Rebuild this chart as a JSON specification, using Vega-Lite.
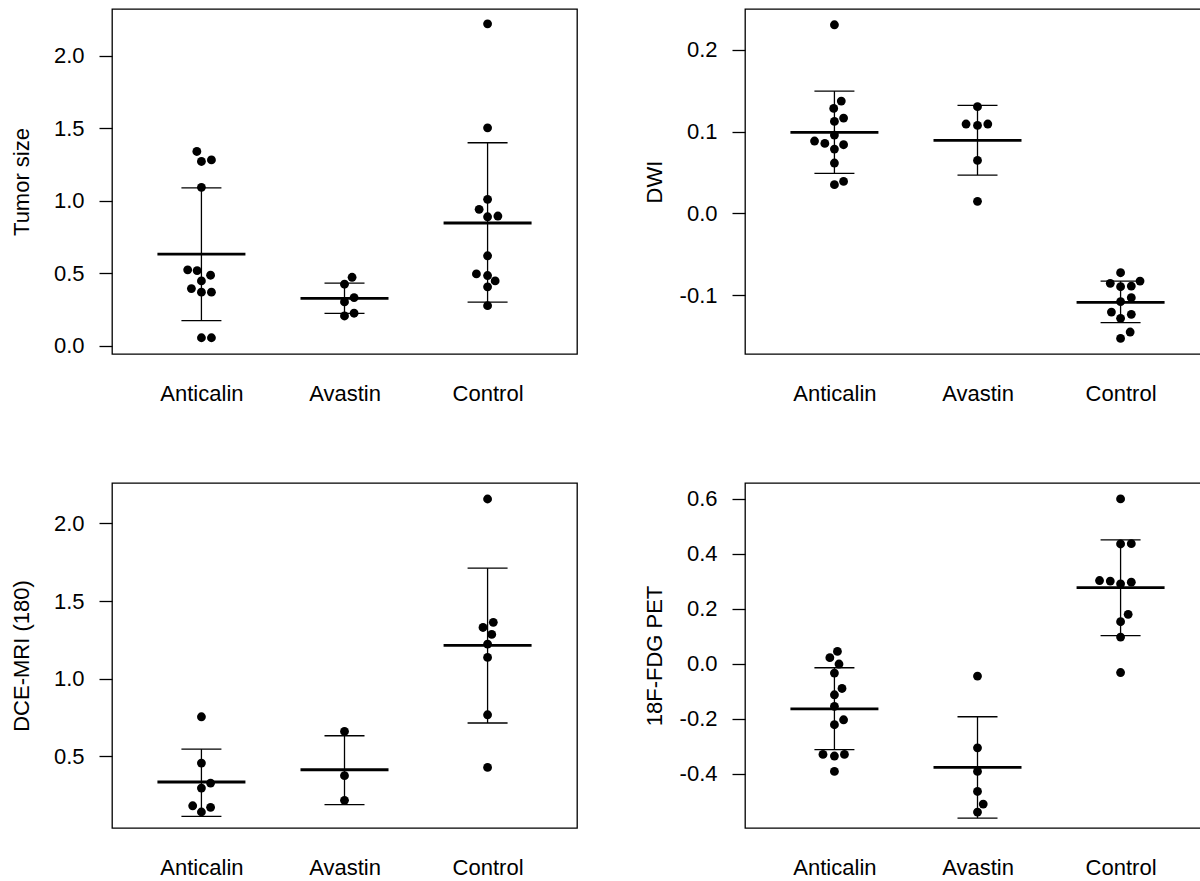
{
  "$schema": "https://vega.github.io/schema/vega-lite/v6.json",
  "background": "white",
  "padding": {"left": 9, "top": 8, "right": 0, "bottom": 5},
  "columns": 2,
  "spacing": {"row": 129, "column": 168},
  "bounds": "flush",
  "config": {
    "font": "Liberation Sans",
    "view": {"stroke": "black", "strokeWidth": 1.3},
    "tick": {"opacity": 1},
    "axis": {"labelFont": "Liberation Sans", "labelFontSize": 22, "labelColor": "#000", "titleFont": "Liberation Sans", "titleFontSize": 22, "titleFontWeight": "normal", "titleColor": "#000", "grid": false, "domain": false, "tickColor": "#000", "tickWidth": 1.3},
    "axisY": {"tickSize": 13, "labelPadding": 15, "titleX": -91, "titleY": 172.5, "titleBaseline": "middle", "titleAngle": -90, "titleAlign": "center"},
    "axisX": {"ticks": false, "tickSize": 0, "labelPadding": 29, "labelAngle": 0}
  },
  "datasets": {
    "pts": [
      {"p":"Tumor size","g":"Anticalin","v":1.339,"dx":-0.032},
      {"p":"Tumor size","g":"Anticalin","v":1.281,"dx":0.07},
      {"p":"Tumor size","g":"Anticalin","v":1.270,"dx":0},
      {"p":"Tumor size","g":"Anticalin","v":1.092,"dx":0},
      {"p":"Tumor size","g":"Anticalin","v":0.523,"dx":-0.096},
      {"p":"Tumor size","g":"Anticalin","v":0.518,"dx":-0.03},
      {"p":"Tumor size","g":"Anticalin","v":0.486,"dx":0.064},
      {"p":"Tumor size","g":"Anticalin","v":0.447,"dx":0},
      {"p":"Tumor size","g":"Anticalin","v":0.394,"dx":-0.07},
      {"p":"Tumor size","g":"Anticalin","v":0.369,"dx":0},
      {"p":"Tumor size","g":"Anticalin","v":0.369,"dx":0.07},
      {"p":"Tumor size","g":"Anticalin","v":0.055,"dx":0},
      {"p":"Tumor size","g":"Anticalin","v":0.055,"dx":0.07},
      {"p":"Tumor size","g":"Avastin","v":0.472,"dx":0.053},
      {"p":"Tumor size","g":"Avastin","v":0.424,"dx":0},
      {"p":"Tumor size","g":"Avastin","v":0.332,"dx":0.067},
      {"p":"Tumor size","g":"Avastin","v":0.302,"dx":0},
      {"p":"Tumor size","g":"Avastin","v":0.224,"dx":0.067},
      {"p":"Tumor size","g":"Avastin","v":0.205,"dx":0},
      {"p":"Tumor size","g":"Control","v":2.219,"dx":0},
      {"p":"Tumor size","g":"Control","v":1.502,"dx":0},
      {"p":"Tumor size","g":"Control","v":1.009,"dx":0},
      {"p":"Tumor size","g":"Control","v":0.940,"dx":-0.059},
      {"p":"Tumor size","g":"Control","v":0.889,"dx":0},
      {"p":"Tumor size","g":"Control","v":0.894,"dx":0.072},
      {"p":"Tumor size","g":"Control","v":0.620,"dx":0},
      {"p":"Tumor size","g":"Control","v":0.495,"dx":-0.078},
      {"p":"Tumor size","g":"Control","v":0.484,"dx":0},
      {"p":"Tumor size","g":"Control","v":0.447,"dx":0.053},
      {"p":"Tumor size","g":"Control","v":0.406,"dx":0},
      {"p":"Tumor size","g":"Control","v":0.276,"dx":0},
      {"p":"DWI","g":"Anticalin","v":0.2307,"dx":0},
      {"p":"DWI","g":"Anticalin","v":0.1374,"dx":0.048},
      {"p":"DWI","g":"Anticalin","v":0.1284,"dx":-0.005},
      {"p":"DWI","g":"Anticalin","v":0.1166,"dx":0.064},
      {"p":"DWI","g":"Anticalin","v":0.1125,"dx":0},
      {"p":"DWI","g":"Anticalin","v":0.0958,"dx":0},
      {"p":"DWI","g":"Anticalin","v":0.0885,"dx":-0.139},
      {"p":"DWI","g":"Anticalin","v":0.0856,"dx":-0.067},
      {"p":"DWI","g":"Anticalin","v":0.0840,"dx":0.064},
      {"p":"DWI","g":"Anticalin","v":0.0787,"dx":0},
      {"p":"DWI","g":"Anticalin","v":0.0616,"dx":0},
      {"p":"DWI","g":"Anticalin","v":0.0391,"dx":0.064},
      {"p":"DWI","g":"Anticalin","v":0.0351,"dx":0},
      {"p":"DWI","g":"Avastin","v":0.1305,"dx":0},
      {"p":"DWI","g":"Avastin","v":0.1093,"dx":-0.08},
      {"p":"DWI","g":"Avastin","v":0.1076,"dx":0},
      {"p":"DWI","g":"Avastin","v":0.1093,"dx":0.072},
      {"p":"DWI","g":"Avastin","v":0.0648,"dx":0},
      {"p":"DWI","g":"Avastin","v":0.0147,"dx":0},
      {"p":"DWI","g":"Control","v":-0.0726,"dx":0},
      {"p":"DWI","g":"Control","v":-0.0856,"dx":-0.072},
      {"p":"DWI","g":"Control","v":-0.0828,"dx":0.136},
      {"p":"DWI","g":"Control","v":-0.0897,"dx":0},
      {"p":"DWI","g":"Control","v":-0.0889,"dx":0.075},
      {"p":"DWI","g":"Control","v":-0.1031,"dx":0.075},
      {"p":"DWI","g":"Control","v":-0.1080,"dx":0},
      {"p":"DWI","g":"Control","v":-0.1207,"dx":-0.064},
      {"p":"DWI","g":"Control","v":-0.1235,"dx":0.075},
      {"p":"DWI","g":"Control","v":-0.1284,"dx":0},
      {"p":"DWI","g":"Control","v":-0.1451,"dx":0.067},
      {"p":"DWI","g":"Control","v":-0.1529,"dx":0},
      {"p":"DCE-MRI (180)","g":"Anticalin","v":0.755,"dx":0},
      {"p":"DCE-MRI (180)","g":"Anticalin","v":0.457,"dx":0},
      {"p":"DCE-MRI (180)","g":"Anticalin","v":0.328,"dx":0.064},
      {"p":"DCE-MRI (180)","g":"Anticalin","v":0.296,"dx":0},
      {"p":"DCE-MRI (180)","g":"Anticalin","v":0.182,"dx":-0.061},
      {"p":"DCE-MRI (180)","g":"Anticalin","v":0.172,"dx":0.064},
      {"p":"DCE-MRI (180)","g":"Anticalin","v":0.142,"dx":0},
      {"p":"DCE-MRI (180)","g":"Avastin","v":0.661,"dx":0},
      {"p":"DCE-MRI (180)","g":"Avastin","v":0.376,"dx":0},
      {"p":"DCE-MRI (180)","g":"Avastin","v":0.217,"dx":0},
      {"p":"DCE-MRI (180)","g":"Control","v":2.157,"dx":0},
      {"p":"DCE-MRI (180)","g":"Control","v":1.363,"dx":0.04},
      {"p":"DCE-MRI (180)","g":"Control","v":1.330,"dx":-0.032},
      {"p":"DCE-MRI (180)","g":"Control","v":1.285,"dx":0.029},
      {"p":"DCE-MRI (180)","g":"Control","v":1.223,"dx":0},
      {"p":"DCE-MRI (180)","g":"Control","v":1.137,"dx":0},
      {"p":"DCE-MRI (180)","g":"Control","v":0.768,"dx":0},
      {"p":"DCE-MRI (180)","g":"Control","v":0.429,"dx":0},
      {"p":"18F-FDG PET","g":"Anticalin","v":0.045,"dx":0.021},
      {"p":"18F-FDG PET","g":"Anticalin","v":0.022,"dx":-0.032},
      {"p":"18F-FDG PET","g":"Anticalin","v":-0.001,"dx":0.032},
      {"p":"18F-FDG PET","g":"Anticalin","v":-0.034,"dx":0},
      {"p":"18F-FDG PET","g":"Anticalin","v":-0.090,"dx":0.053},
      {"p":"18F-FDG PET","g":"Anticalin","v":-0.113,"dx":0},
      {"p":"18F-FDG PET","g":"Anticalin","v":-0.155,"dx":0},
      {"p":"18F-FDG PET","g":"Anticalin","v":-0.204,"dx":0.064},
      {"p":"18F-FDG PET","g":"Anticalin","v":-0.222,"dx":0},
      {"p":"18F-FDG PET","g":"Anticalin","v":-0.330,"dx":-0.08},
      {"p":"18F-FDG PET","g":"Anticalin","v":-0.336,"dx":0},
      {"p":"18F-FDG PET","g":"Anticalin","v":-0.330,"dx":0.07},
      {"p":"18F-FDG PET","g":"Anticalin","v":-0.392,"dx":0},
      {"p":"18F-FDG PET","g":"Avastin","v":-0.045,"dx":0},
      {"p":"18F-FDG PET","g":"Avastin","v":-0.306,"dx":0},
      {"p":"18F-FDG PET","g":"Avastin","v":-0.392,"dx":0},
      {"p":"18F-FDG PET","g":"Avastin","v":-0.465,"dx":0},
      {"p":"18F-FDG PET","g":"Avastin","v":-0.511,"dx":0.04},
      {"p":"18F-FDG PET","g":"Avastin","v":-0.540,"dx":0},
      {"p":"18F-FDG PET","g":"Control","v":0.600,"dx":0},
      {"p":"18F-FDG PET","g":"Control","v":0.436,"dx":0},
      {"p":"18F-FDG PET","g":"Control","v":0.437,"dx":0.075},
      {"p":"18F-FDG PET","g":"Control","v":0.303,"dx":-0.147},
      {"p":"18F-FDG PET","g":"Control","v":0.301,"dx":-0.072},
      {"p":"18F-FDG PET","g":"Control","v":0.291,"dx":0},
      {"p":"18F-FDG PET","g":"Control","v":0.297,"dx":0.075},
      {"p":"18F-FDG PET","g":"Control","v":0.180,"dx":0.053},
      {"p":"18F-FDG PET","g":"Control","v":0.153,"dx":0},
      {"p":"18F-FDG PET","g":"Control","v":0.097,"dx":0},
      {"p":"18F-FDG PET","g":"Control","v":-0.032,"dx":0}
    ],
    "summ": [
      {"p":"Tumor size","g":"Anticalin","mean":0.631,"lo":0.173,"hi":1.088},
      {"p":"Tumor size","g":"Avastin","mean":0.327,"lo":0.2235,"hi":0.431},
      {"p":"Tumor size","g":"Control","mean":0.846,"lo":0.300,"hi":1.399},
      {"p":"DWI","g":"Anticalin","mean":0.0991,"lo":0.0489,"hi":0.1496},
      {"p":"DWI","g":"Avastin","mean":0.0893,"lo":0.0469,"hi":0.1321},
      {"p":"DWI","g":"Control","mean":-0.1088,"lo":-0.1337,"hi":-0.0828},
      {"p":"DCE-MRI (180)","g":"Anticalin","mean":0.335,"lo":0.114,"hi":0.547},
      {"p":"DCE-MRI (180)","g":"Avastin","mean":0.414,"lo":0.189,"hi":0.633},
      {"p":"DCE-MRI (180)","g":"Control","mean":1.215,"lo":0.715,"hi":1.712},
      {"p":"18F-FDG PET","g":"Anticalin","mean":-0.164,"lo":-0.313,"hi":-0.0146},
      {"p":"18F-FDG PET","g":"Avastin","mean":-0.377,"lo":-0.562,"hi":-0.193},
      {"p":"18F-FDG PET","g":"Control","mean":0.277,"lo":0.102,"hi":0.451}
    ]
  },
  "concat": [
    {
      "width": 465, "height": 345,
      "encoding": {"x": {"field": "g", "type": "nominal", "title": null, "scale": {"type": "point", "padding": 0.625, "domain": ["Anticalin","Avastin","Control"]}}},
      "layer": [
        {"data": {"name": "summ"}, "transform": [{"filter": "datum.p == 'Tumor size'"}],
         "mark": {"type": "rule", "color": "black", "strokeWidth": 1.3},
         "encoding": {
           "y": {"field": "lo", "type": "quantitative", "title": "Tumor size", "scale": {"domain": [-0.057, 2.321], "nice": false, "zero": false}, "axis": {"values": [0, 0.5, 1, 1.5, 2], "labelExpr": "replace(format(datum.value, '.1f'), '\u2212', '-')"}},
           "y2": {"field": "hi"}}},
        {"data": {"name": "summ"}, "transform": [{"filter": "datum.p == 'Tumor size'"}],
         "mark": {"type": "tick", "color": "black", "opacity": 1, "thickness": 1.3, "size": 40, "orient": "horizontal"},
         "encoding": {
           "y": {"field": "lo", "type": "quantitative", "title": "Tumor size", "scale": {"domain": [-0.057, 2.321], "nice": false, "zero": false}, "axis": {"values": [0, 0.5, 1, 1.5, 2], "labelExpr": "replace(format(datum.value, '.1f'), '\u2212', '-')"}}}},
        {"data": {"name": "summ"}, "transform": [{"filter": "datum.p == 'Tumor size'"}],
         "mark": {"type": "tick", "color": "black", "opacity": 1, "thickness": 1.3, "size": 40, "orient": "horizontal"},
         "encoding": {
           "y": {"field": "hi", "type": "quantitative", "title": "Tumor size", "scale": {"domain": [-0.057, 2.321], "nice": false, "zero": false}, "axis": {"values": [0, 0.5, 1, 1.5, 2], "labelExpr": "replace(format(datum.value, '.1f'), '\u2212', '-')"}}}},
        {"data": {"name": "summ"}, "transform": [{"filter": "datum.p == 'Tumor size'"}],
         "mark": {"type": "tick", "color": "black", "opacity": 1, "thickness": 2.8, "size": 88, "orient": "horizontal"},
         "encoding": {
           "y": {"field": "mean", "type": "quantitative", "title": "Tumor size", "scale": {"domain": [-0.057, 2.321], "nice": false, "zero": false}, "axis": {"values": [0, 0.5, 1, 1.5, 2], "labelExpr": "replace(format(datum.value, '.1f'), '\u2212', '-')"}}}},
        {"data": {"name": "pts"}, "transform": [{"filter": "datum.p == 'Tumor size'"}],
         "mark": {"type": "circle", "color": "black", "opacity": 1, "size": 78},
         "encoding": {
           "xOffset": {"field": "dx", "type": "quantitative", "scale": {"domain": [-1, 1], "range": [-143.08, 143.08]}},
           "y": {"field": "v", "type": "quantitative", "title": "Tumor size", "scale": {"domain": [-0.057, 2.321], "nice": false, "zero": false}, "axis": {"values": [0, 0.5, 1, 1.5, 2], "labelExpr": "replace(format(datum.value, '.1f'), '\u2212', '-')"}}}}
      ]
    },
    {
      "width": 465, "height": 345,
      "encoding": {"x": {"field": "g", "type": "nominal", "title": null, "scale": {"type": "point", "padding": 0.625, "domain": ["Anticalin","Avastin","Control"]}}},
      "layer": [
        {"data": {"name": "summ"}, "transform": [{"filter": "datum.p == 'DWI'"}],
         "mark": {"type": "rule", "color": "black", "strokeWidth": 1.3},
         "encoding": {
           "y": {"field": "lo", "type": "quantitative", "title": "DWI", "scale": {"domain": [-0.172, 0.25], "nice": false, "zero": false}, "axis": {"values": [-0.1, 0, 0.1, 0.2], "labelExpr": "replace(format(datum.value, '.1f'), '\u2212', '-')"}},
           "y2": {"field": "hi"}}},
        {"data": {"name": "summ"}, "transform": [{"filter": "datum.p == 'DWI'"}],
         "mark": {"type": "tick", "color": "black", "opacity": 1, "thickness": 1.3, "size": 40, "orient": "horizontal"},
         "encoding": {
           "y": {"field": "lo", "type": "quantitative", "title": "DWI", "scale": {"domain": [-0.172, 0.25], "nice": false, "zero": false}, "axis": {"values": [-0.1, 0, 0.1, 0.2], "labelExpr": "replace(format(datum.value, '.1f'), '\u2212', '-')"}}}},
        {"data": {"name": "summ"}, "transform": [{"filter": "datum.p == 'DWI'"}],
         "mark": {"type": "tick", "color": "black", "opacity": 1, "thickness": 1.3, "size": 40, "orient": "horizontal"},
         "encoding": {
           "y": {"field": "hi", "type": "quantitative", "title": "DWI", "scale": {"domain": [-0.172, 0.25], "nice": false, "zero": false}, "axis": {"values": [-0.1, 0, 0.1, 0.2], "labelExpr": "replace(format(datum.value, '.1f'), '\u2212', '-')"}}}},
        {"data": {"name": "summ"}, "transform": [{"filter": "datum.p == 'DWI'"}],
         "mark": {"type": "tick", "color": "black", "opacity": 1, "thickness": 2.8, "size": 88, "orient": "horizontal"},
         "encoding": {
           "y": {"field": "mean", "type": "quantitative", "title": "DWI", "scale": {"domain": [-0.172, 0.25], "nice": false, "zero": false}, "axis": {"values": [-0.1, 0, 0.1, 0.2], "labelExpr": "replace(format(datum.value, '.1f'), '\u2212', '-')"}}}},
        {"data": {"name": "pts"}, "transform": [{"filter": "datum.p == 'DWI'"}],
         "mark": {"type": "circle", "color": "black", "opacity": 1, "size": 78},
         "encoding": {
           "xOffset": {"field": "dx", "type": "quantitative", "scale": {"domain": [-1, 1], "range": [-143.08, 143.08]}},
           "y": {"field": "v", "type": "quantitative", "title": "DWI", "scale": {"domain": [-0.172, 0.25], "nice": false, "zero": false}, "axis": {"values": [-0.1, 0, 0.1, 0.2], "labelExpr": "replace(format(datum.value, '.1f'), '\u2212', '-')"}}}}
      ]
    },
    {
      "width": 465, "height": 345,
      "encoding": {"x": {"field": "g", "type": "nominal", "title": null, "scale": {"type": "point", "padding": 0.625, "domain": ["Anticalin","Avastin","Control"]}}},
      "layer": [
        {"data": {"name": "summ"}, "transform": [{"filter": "datum.p == 'DCE-MRI (180)'"}],
         "mark": {"type": "rule", "color": "black", "strokeWidth": 1.3},
         "encoding": {
           "y": {"field": "lo", "type": "quantitative", "title": "DCE-MRI (180)", "scale": {"domain": [0.039, 2.26], "nice": false, "zero": false}, "axis": {"values": [0.5, 1, 1.5, 2], "labelExpr": "replace(format(datum.value, '.1f'), '\u2212', '-')"}},
           "y2": {"field": "hi"}}},
        {"data": {"name": "summ"}, "transform": [{"filter": "datum.p == 'DCE-MRI (180)'"}],
         "mark": {"type": "tick", "color": "black", "opacity": 1, "thickness": 1.3, "size": 40, "orient": "horizontal"},
         "encoding": {
           "y": {"field": "lo", "type": "quantitative", "title": "DCE-MRI (180)", "scale": {"domain": [0.039, 2.26], "nice": false, "zero": false}, "axis": {"values": [0.5, 1, 1.5, 2], "labelExpr": "replace(format(datum.value, '.1f'), '\u2212', '-')"}}}},
        {"data": {"name": "summ"}, "transform": [{"filter": "datum.p == 'DCE-MRI (180)'"}],
         "mark": {"type": "tick", "color": "black", "opacity": 1, "thickness": 1.3, "size": 40, "orient": "horizontal"},
         "encoding": {
           "y": {"field": "hi", "type": "quantitative", "title": "DCE-MRI (180)", "scale": {"domain": [0.039, 2.26], "nice": false, "zero": false}, "axis": {"values": [0.5, 1, 1.5, 2], "labelExpr": "replace(format(datum.value, '.1f'), '\u2212', '-')"}}}},
        {"data": {"name": "summ"}, "transform": [{"filter": "datum.p == 'DCE-MRI (180)'"}],
         "mark": {"type": "tick", "color": "black", "opacity": 1, "thickness": 2.8, "size": 88, "orient": "horizontal"},
         "encoding": {
           "y": {"field": "mean", "type": "quantitative", "title": "DCE-MRI (180)", "scale": {"domain": [0.039, 2.26], "nice": false, "zero": false}, "axis": {"values": [0.5, 1, 1.5, 2], "labelExpr": "replace(format(datum.value, '.1f'), '\u2212', '-')"}}}},
        {"data": {"name": "pts"}, "transform": [{"filter": "datum.p == 'DCE-MRI (180)'"}],
         "mark": {"type": "circle", "color": "black", "opacity": 1, "size": 78},
         "encoding": {
           "xOffset": {"field": "dx", "type": "quantitative", "scale": {"domain": [-1, 1], "range": [-143.08, 143.08]}},
           "y": {"field": "v", "type": "quantitative", "title": "DCE-MRI (180)", "scale": {"domain": [0.039, 2.26], "nice": false, "zero": false}, "axis": {"values": [0.5, 1, 1.5, 2], "labelExpr": "replace(format(datum.value, '.1f'), '\u2212', '-')"}}}}
      ]
    },
    {
      "width": 465, "height": 345,
      "encoding": {"x": {"field": "g", "type": "nominal", "title": null, "scale": {"type": "point", "padding": 0.625, "domain": ["Anticalin","Avastin","Control"]}}},
      "layer": [
        {"data": {"name": "summ"}, "transform": [{"filter": "datum.p == '18F-FDG PET'"}],
         "mark": {"type": "rule", "color": "black", "strokeWidth": 1.3},
         "encoding": {
           "y": {"field": "lo", "type": "quantitative", "title": "18F-FDG PET", "scale": {"domain": [-0.598, 0.658], "nice": false, "zero": false}, "axis": {"values": [-0.4, -0.2, 0, 0.2, 0.4, 0.6], "labelExpr": "replace(format(datum.value, '.1f'), '\u2212', '-')"}},
           "y2": {"field": "hi"}}},
        {"data": {"name": "summ"}, "transform": [{"filter": "datum.p == '18F-FDG PET'"}],
         "mark": {"type": "tick", "color": "black", "opacity": 1, "thickness": 1.3, "size": 40, "orient": "horizontal"},
         "encoding": {
           "y": {"field": "lo", "type": "quantitative", "title": "18F-FDG PET", "scale": {"domain": [-0.598, 0.658], "nice": false, "zero": false}, "axis": {"values": [-0.4, -0.2, 0, 0.2, 0.4, 0.6], "labelExpr": "replace(format(datum.value, '.1f'), '\u2212', '-')"}}}},
        {"data": {"name": "summ"}, "transform": [{"filter": "datum.p == '18F-FDG PET'"}],
         "mark": {"type": "tick", "color": "black", "opacity": 1, "thickness": 1.3, "size": 40, "orient": "horizontal"},
         "encoding": {
           "y": {"field": "hi", "type": "quantitative", "title": "18F-FDG PET", "scale": {"domain": [-0.598, 0.658], "nice": false, "zero": false}, "axis": {"values": [-0.4, -0.2, 0, 0.2, 0.4, 0.6], "labelExpr": "replace(format(datum.value, '.1f'), '\u2212', '-')"}}}},
        {"data": {"name": "summ"}, "transform": [{"filter": "datum.p == '18F-FDG PET'"}],
         "mark": {"type": "tick", "color": "black", "opacity": 1, "thickness": 2.8, "size": 88, "orient": "horizontal"},
         "encoding": {
           "y": {"field": "mean", "type": "quantitative", "title": "18F-FDG PET", "scale": {"domain": [-0.598, 0.658], "nice": false, "zero": false}, "axis": {"values": [-0.4, -0.2, 0, 0.2, 0.4, 0.6], "labelExpr": "replace(format(datum.value, '.1f'), '\u2212', '-')"}}}},
        {"data": {"name": "pts"}, "transform": [{"filter": "datum.p == '18F-FDG PET'"}],
         "mark": {"type": "circle", "color": "black", "opacity": 1, "size": 78},
         "encoding": {
           "xOffset": {"field": "dx", "type": "quantitative", "scale": {"domain": [-1, 1], "range": [-143.08, 143.08]}},
           "y": {"field": "v", "type": "quantitative", "title": "18F-FDG PET", "scale": {"domain": [-0.598, 0.658], "nice": false, "zero": false}, "axis": {"values": [-0.4, -0.2, 0, 0.2, 0.4, 0.6], "labelExpr": "replace(format(datum.value, '.1f'), '\u2212', '-')"}}}}
      ]
    }
  ]
}
